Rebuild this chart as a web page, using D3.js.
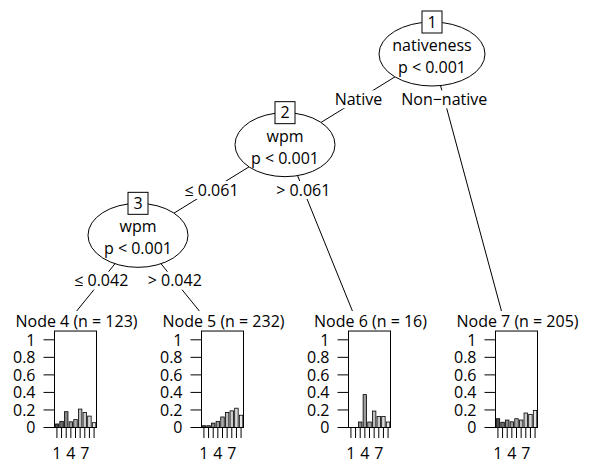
<!DOCTYPE html>
<html><head><meta charset="utf-8">
<script src="https://cdn.jsdelivr.net/npm/d3@7"></script>
<style>
body{margin:0;background:#fff}
svg text{font-family:"Open Sans",sans-serif;font-size:16px;fill:#000}
</style>
</head><body><svg id="c" width="590" height="465"></svg>
<script>
// ---- data ----
const categories = [1,2,3,4,5,6,7,8,9];
const xTickLabels = ["1","4","7"];
const yTicks = [0,0.2,0.4,0.6,0.8,1];
const terminalIds = [4,5,6,7];
const terminalN = [123,232,16,205];
const node4 = [0.04,0.07,0.18,0.065,0.09,0.21,0.17,0.13,0.055];
const node5 = [0.02,0.02,0.05,0.07,0.12,0.17,0.19,0.22,0.14];
const node6 = [0,0,0.0625,0.375,0.0625,0.1875,0.125,0.125,0.0625];
const node7 = [0.10,0.06,0.085,0.065,0.10,0.085,0.165,0.15,0.195];
const innerIds = [1,2,3];
const innerVars = ["nativeness","wpm","wpm"];
const innerP = ["p < 0.001","p < 0.001","p < 0.001"];
const edges1 = ["Native","Non\u2212native"];
const edges2 = ["\u2264 0.061","> 0.061"];
const edges3 = ["\u2264 0.042","> 0.042"];
const barFills = d3.range(9).map(i=>{const a=Math.pow(0.3,2.2),b=Math.pow(0.9,2.2);const v=Math.pow(a+(b-a)*i/8,1/2.2);return d3.rgb(v*255,v*255,v*255).toString();});

// ---- tree structure ----
const term = i => ({terminal:true, id:terminalIds[i], n:terminalN[i], values:[node4,node5,node6,node7][i]});
const tree = {id:innerIds[0], v:innerVars[0], p:innerP[0], labels:edges1, kids:[
  {id:innerIds[1], v:innerVars[1], p:innerP[1], labels:edges2, kids:[
    {id:innerIds[2], v:innerVars[2], p:innerP[2], labels:edges3, kids:[term(0), term(1)]},
    term(2)]},
  term(3)]};

const nTerm = nd => nd.terminal ? 1 : d3.sum(nd.kids, nTerm);
const posFrac = nd => {
  if (nd.terminal) return 0.5;
  const w = nd.kids.map(nTerm); const k = w.length;
  const r = (k%2===0) ? d3.sum(w.slice(0,k/2)) : d3.mean([d3.sum(w.slice(0,(k-1)/2)), d3.sum(w.slice(0,(k+1)/2))]);
  return r/d3.sum(w);
};

const svg = d3.select("#c");
const xs = d3.scaleLinear().domain([0,4]).range([-9,579]);
const ys = d3.scaleLinear().domain([1,4]).range([54,326]);
const gLines = svg.append("g"), gTermBg = svg.append("g"), gLab = svg.append("g"), gNode = svg.append("g"), gTerm = svg.append("g");

const inner = [], terms = [];
function layout(nd, xlim, depth){
  const W = xlim[1]-xlim[0];
  if (nd.terminal){ nd.x = xlim[0]+W/2; nd.y = 4; terms.push(nd); return; }
  nd.x = xlim[0] + posFrac(nd)*W; nd.y = depth; inner.push(nd);
  const w = nd.kids.map(nTerm), tot = d3.sum(w);
  let acc = xlim[0];
  nd.kids.forEach((k,i)=>{ const lim=[acc, acc + w[i]/tot*W]; acc = lim[1]; layout(k, lim, depth+1); });
}
layout(tree, [0,4], 1);

// edges + labels
inner.forEach(nd=>{
  const x0 = xs(nd.x), y0 = ys(nd.y);
  const ymax = d3.min(nd.kids, k=>ys(k.y));
  const ypos = y0 + (ymax-y0)*0.5;
  nd.kids.forEach((k,i)=>{
    const x1 = xs(k.x), y1 = ys(k.y);
    gLines.append("line").attr("x1",x0).attr("y1",y0).attr("x2",x1).attr("y2",y1).attr("stroke","#000").attr("stroke-width",1);
    const xpos = x0 + (x1-x0)*(ypos-y0)/(y1-y0);
    const t = gLab.append("text").attr("x",xpos).attr("y",ypos).attr("dy","0.36em").attr("text-anchor","middle").text(nd.labels[i]);
    const bb = t.node().getBBox();
    gLab.insert("rect","text").attr("x",bb.x).attr("y",ypos-9).attr("width",bb.width).attr("height",18).attr("fill","#fff");
  });
});

// inner nodes
inner.forEach(nd=>{
  const cx = xs(nd.x), cy = ys(nd.y);
  const rx = nd.v.length>5 ? 53 : 50, ry = 32;
  gNode.append("ellipse").attr("cx",cx).attr("cy",cy).attr("rx",rx).attr("ry",ry).attr("fill","#fff").attr("stroke","#000");
  gNode.append("text").attr("x",cx).attr("y",cy-3).attr("text-anchor","middle").text(nd.v);
  gNode.append("text").attr("x",cx).attr("y",cy+19).attr("text-anchor","middle").text(nd.p);
  gNode.append("rect").attr("x",cx-10).attr("y",cy-ry-11).attr("width",20).attr("height",22).attr("fill","#fff").attr("stroke","#000");
  gNode.append("text").attr("x",cx).attr("y",cy-ry).attr("dy","0.36em").attr("text-anchor","middle").text(nd.id);
});

// terminal panels
const yBar = d3.scaleLinear().domain([0,1]).range([427.5,339.8]);
terms.forEach(nd=>{
  const tx = xs(nd.x), w = xs(1)-xs(0);
  gTermBg.append("rect").attr("x",tx-w/2).attr("y",311).attr("width",w).attr("height",160).attr("fill","#fff");
  const bx = tx-10, bw = 42;
  const g = gTerm.append("g");
  g.append("text").attr("x",bx+bw/2+1).attr("y",327).attr("text-anchor","middle").text(`Node ${nd.id} (n = ${nd.n})`);
  const xb = d3.scaleBand().domain(categories).range([bx,bx+bw]).paddingInner(0.25).paddingOuter(0.15);
  g.selectAll("rect.bar").data(nd.values).join("rect").attr("class","bar")
    .attr("x",(d,i)=>xb(categories[i])).attr("width",xb.bandwidth())
    .attr("y",d=>yBar(d)).attr("height",d=>yBar(0)-yBar(d))
    .attr("fill",(d,i)=>barFills[i]).attr("stroke","#000").attr("stroke-width",0.8);
  g.append("rect").attr("x",bx).attr("y",yBar(1.1)).attr("width",bw).attr("height",yBar(0)-yBar(1.1)).attr("fill","none").attr("stroke","#000");
  // y axis
  yTicks.forEach(v=>{
    g.append("line").attr("x1",bx-11).attr("x2",bx).attr("y1",yBar(v)).attr("y2",yBar(v)).attr("stroke","#000");
    g.append("text").attr("x",bx-19).attr("y",yBar(v)).attr("dy","0.36em").attr("text-anchor","end").text(d3.format("~g")(v));
  });
  // x axis
  categories.forEach(c=>{
    const cx = xb(c)+xb.bandwidth()/2;
    g.append("line").attr("x1",cx).attr("x2",cx).attr("y1",yBar(0)).attr("y2",yBar(0)+10.5).attr("stroke","#000");
  });
  xTickLabels.forEach(l=>{
    const c = +l; const cx = xb(c)+xb.bandwidth()/2;
    g.append("text").attr("x",cx).attr("y",459).attr("text-anchor","middle").text(l);
  });
});
</script></body></html>
